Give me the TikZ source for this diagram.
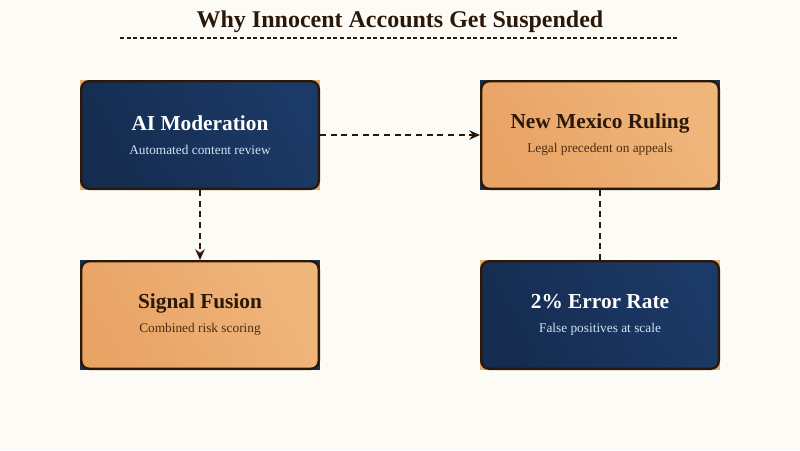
\documentclass[tikz,border=0pt]{standalone}
\usepackage{fontspec}
\setmainfont{Liberation Serif}
\usetikzlibrary{arrows.meta}

\definecolor{paper}{HTML}{FDFBF6}
\definecolor{ink}{HTML}{2A1808}
\definecolor{navyA}{HTML}{152C50}
\definecolor{navyB}{HTML}{1C3A67}
\definecolor{tanA}{HTML}{E9A365}
\definecolor{tanB}{HTML}{EFB67C}
\definecolor{accentTan}{HTML}{E2AC74}
\definecolor{accentNavy}{HTML}{1B3152}
\definecolor{subLight}{HTML}{D2E2F6}
\definecolor{subDark}{HTML}{4A2C12}

\begin{document}
\begin{tikzpicture}[x = 0.75pt, y = -0.75pt]
\tikzstyle{BackStyle}=[
shape = rectangle,
minimum width = 240*0.75pt,
minimum height = 110*0.75pt,
inner sep = 0pt]
\tikzstyle{BoxStyle}=[
shape = rectangle,
rounded corners = 6pt,
minimum width = 240*0.75pt - 1.8pt,
minimum height = 110*0.75pt - 1.8pt,
draw = ink,
line width = 1.8pt,
align = center,
inner sep = 0pt]
\tikzstyle{DarkBox}=[BoxStyle, left color = navyA, right color = navyB, shading angle = 120, text = white]
\tikzstyle{LightBox}=[BoxStyle, left color = tanA, right color = tanB, shading angle = 120, text = ink]
\tikzstyle{Link}=[draw = ink, line width = 1.4pt, dash pattern = on 4.5pt off 3.5pt]
\newcommand{\BoxText}[3]{{\fontsize{16}{18}\selectfont\bfseries #1}\\[6pt]{\fontsize{10}{11}\selectfont\color{#3}#2}}

\fill[paper] (0,0) rectangle (800,450);
\useasboundingbox (0,0) rectangle (800,450);

% title
\node[text = ink, font = \fontsize{18}{20}\selectfont\bfseries] (title) at (400,22) {Why Innocent Accounts Get Suspended};
\coordinate (ruleL) at (120,38);
\coordinate (ruleR) at (678,38);
\draw[draw = ink, line width = 0.8pt, dash pattern = on 3pt off 2pt] (ruleL) -- (ruleR);

% corner backs
\node[BackStyle, fill = accentTan] (bmod) at (200,135) {};
\node[BackStyle, fill = accentNavy] (brul) at (600,135) {};
\node[BackStyle, fill = accentNavy] (bfus) at (200,315) {};
\node[BackStyle, fill = accentTan] (berr) at (600,315) {};

% boxes
\node[DarkBox] (mod) at (200,135) {\BoxText{AI Moderation}{Automated content review}{subLight}};
\node[LightBox] (rul) at (600,135) {\BoxText{New Mexico Ruling}{Legal precedent on appeals}{subDark}};
\node[LightBox] (fus) at (200,315) {\BoxText{Signal Fusion}{Combined risk scoring}{subDark}};
\node[DarkBox] (err) at (600,315) {\BoxText{2\% Error Rate}{False positives at scale}{subLight}};

% links
\draw[Link, -{Stealth[length = 8pt, width = 7pt]}] (mod) -- (rul);
\draw[Link, -{Stealth[length = 8pt, width = 7pt]}] (mod) -- (fus);
\draw[Link] (rul) -- (err);
\end{tikzpicture}
\end{document}
